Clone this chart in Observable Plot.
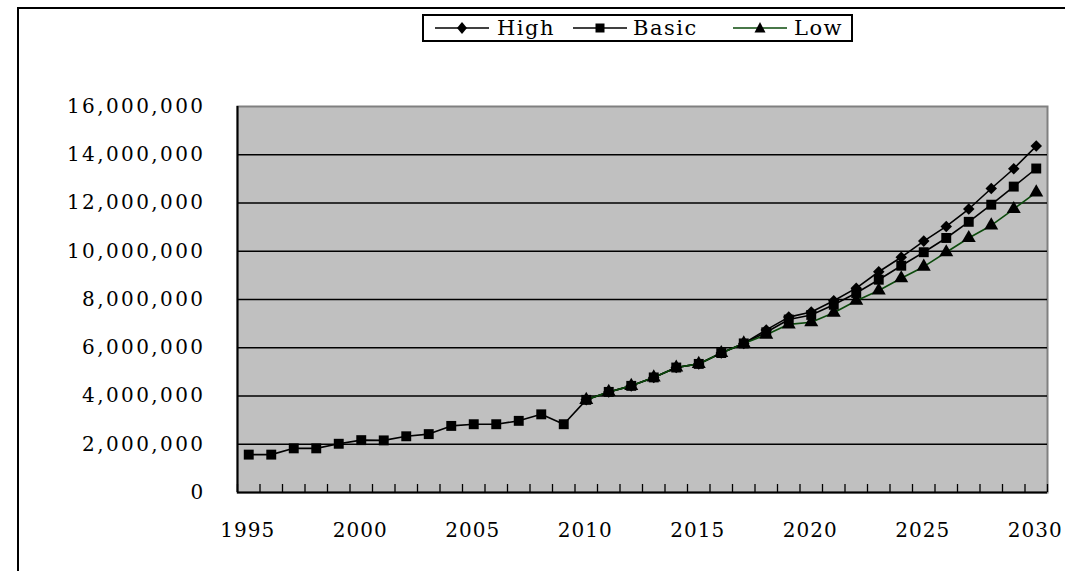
<!DOCTYPE html>
<html><head><meta charset="utf-8">
<script src="https://cdn.jsdelivr.net/npm/d3@7"></script>
<script src="https://cdn.jsdelivr.net/npm/@observablehq/plot@0.6"></script>
<style>
body{margin:0;background:#fff;}
#wrap{position:relative;width:1065px;height:571px;overflow:hidden;background:#fff;}
#border{position:absolute;left:17px;top:7px;width:1200px;height:700px;border-left:2px solid #000;border-top:2px solid #000;}
#chart{position:absolute;left:0;top:0;}
#legend{position:absolute;left:422px;top:14px;width:427px;height:24px;border:2px solid #000;background:#fff;font-family:"DejaVu Serif",serif;font-size:21px;line-height:24px;color:#000;}
#legend .sw{position:absolute;top:2px;}
#legend .tx{position:absolute;top:0;letter-spacing:1.5px;white-space:nowrap;}
#chart svg text{font-family:"DejaVu Serif",serif;}
#chart svg g[aria-label="y-axis tick label"] text{letter-spacing:2.4px;}
#chart svg g[aria-label="x-axis tick label"] text{letter-spacing:1px;}
</style></head>
<body><div id="wrap"><div id="border"></div><div id="chart"></div><div id="legend"></div></div>
<script>
const years = [1995,1996,1997,1998,1999,2000,2001,2002,2003,2004,2005,2006,2007,2008,2009,2010,2011,2012,2013,2014,2015,2016,2017,2018,2019,2020,2021,2022,2023,2024,2025,2026,2027,2028,2029,2030];
const basic = [1570000,1570000,1830000,1830000,2020000,2170000,2160000,2330000,2420000,2760000,2830000,2830000,2970000,3240000,2830000,3840000,4170000,4420000,4770000,5180000,5330000,5780000,6180000,6640000,7170000,7360000,7780000,8270000,8820000,9400000,9960000,10550000,11220000,11930000,12680000,13430000];
const projYears = [2010,2011,2012,2013,2014,2015,2016,2017,2018,2019,2020,2021,2022,2023,2024,2025,2026,2027,2028,2029,2030];
const high = [3840000,4170000,4420000,4770000,5180000,5330000,5780000,6180000,6740000,7270000,7480000,7950000,8470000,9150000,9750000,10420000,11030000,11750000,12600000,13420000,14360000];
const low = [3840000,4170000,4420000,4770000,5180000,5330000,5780000,6180000,6540000,6970000,7060000,7450000,7950000,8370000,8880000,9360000,9960000,10550000,11070000,11750000,12440000];
const yTicks = [0,2000000,4000000,6000000,8000000,10000000,12000000,14000000,16000000];
const xLabels = [1995,2000,2005,2010,2015,2020,2025,2030];
const seriesNames = ["High","Basic","Low"];
const seriesColors = ["#000000","#000000","#0b4a0b"];

const basicRows = years.map((y,i)=>({year:y, value:basic[i], series:"Basic"}));
const highRows = projYears.map((y,i)=>({year:y, value:high[i], series:"High"}));
const lowRows = projYears.map((y,i)=>({year:y, value:low[i], series:"Low"}));
const boundaries = [years[0]-0.5, ...years.map(y=>y+0.5)];
const gridVals = yTicks.slice(1, -1);

const chart = Plot.plot({
  width: 1065, height: 571,
  marginLeft: 237, marginRight: 18, marginTop: 106, marginBottom: 79,
  style: {fontFamily: "DejaVu Serif", fontSize: "20px", color: "#000", background: "transparent", overflow: "visible"},
  x: {type: "linear", domain: [years[0]-0.5, years[years.length-1]+0.5], label: null},
  y: {domain: [yTicks[0], yTicks[yTicks.length-1]], label: null},
  marks: [
    Plot.frame({fill: "#C0C0C0", stroke: "#808080", strokeWidth: 2}),
    Plot.ruleY(gridVals, {stroke: "#000", strokeWidth: 1.6}),
    Plot.ruleY([yTicks[0]], {stroke: "#000", strokeWidth: 2}),
    Plot.ruleX([boundaries[0]], {stroke: "#000", strokeWidth: 2}),
    Plot.tickX(boundaries, {x: d=>d, insetTop: 378, stroke: "#000", strokeWidth: 1.3}),
    Plot.line(highRows, {x: "year", y: "value", stroke: seriesColors[0], strokeWidth: 1.6}),
    Plot.line(basicRows, {x: "year", y: "value", stroke: seriesColors[1], strokeWidth: 1.6}),
    Plot.line(lowRows, {x: "year", y: "value", stroke: seriesColors[2], strokeWidth: 1.6}),
    Plot.dot(highRows, {x: "year", y: "value", symbol: "square", rotate: 45, r: 4.6, fill: "#000"}),
    Plot.dot(basicRows, {x: "year", y: "value", symbol: "square", r: 5.6, fill: "#000"}),
    Plot.dot(lowRows, {x: "year", y: "value", symbol: "triangle", r: 5.2, fill: "#000"}),
    Plot.axisY({ticks: yTicks, tickSize: 0, tickPadding: 32, tickFormat: d3.format(",")}),
    Plot.axisX({ticks: xLabels, tickSize: 0, tickPadding: 30, dx: -1, tickFormat: d=>String(d)})
  ]
});
document.getElementById("chart").appendChild(chart);

// legend
const legend = document.getElementById("legend");
const swLeft = [11, 149, 309];
const txLeft = [73, 209, 370];
const markerPaths = [
  "M27,4 L32,10 L27,16 L22,10 Z",
  "M22.5,5.5 L31.5,5.5 L31.5,14.5 L22.5,14.5 Z",
  "M27,4 L32.5,14.5 L21.5,14.5 Z"
];
seriesNames.forEach((name, i) => {
  const sw = document.createElement("div");
  sw.className = "sw";
  sw.style.left = swLeft[i] + "px";
  sw.innerHTML = `<svg width="54" height="20"><line x1="0" y1="10" x2="54" y2="10" stroke="${seriesColors[i]}" stroke-width="1.6"/><path d="${markerPaths[i]}" fill="#000"/></svg>`;
  legend.appendChild(sw);
  const tx = document.createElement("div");
  tx.className = "tx";
  tx.style.left = txLeft[i] + "px";
  tx.textContent = name;
  legend.appendChild(tx);
});
</script>
</body></html>
